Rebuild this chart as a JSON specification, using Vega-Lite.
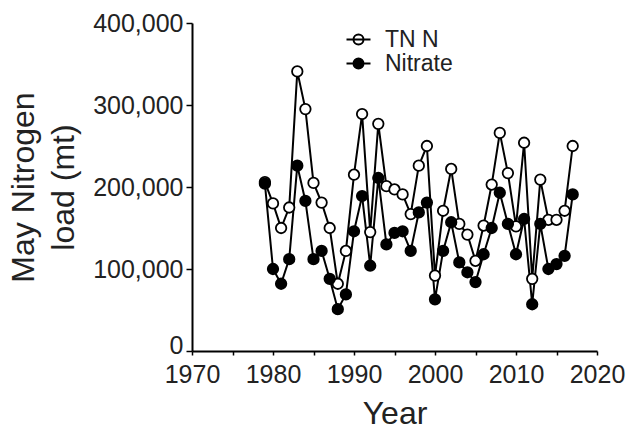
{
  "$schema": "https://vega.github.io/schema/vega-lite/v6.json",
  "width": 405,
  "height": 328,
  "autosize": {"type": "none"},
  "padding": {"left": 192, "top": 23, "right": 32, "bottom": 78},
  "background": "white",
  "config": {"view": {"stroke": null}, "font": "Liberation Sans"},
  "data": {
    "values": [
      {"year": 1979, "series": "TN N", "load": 206000},
      {"year": 1980, "series": "TN N", "load": 180000},
      {"year": 1981, "series": "TN N", "load": 150000},
      {"year": 1982, "series": "TN N", "load": 175000},
      {"year": 1983, "series": "TN N", "load": 341000},
      {"year": 1984, "series": "TN N", "load": 295000},
      {"year": 1985, "series": "TN N", "load": 205000},
      {"year": 1986, "series": "TN N", "load": 181000},
      {"year": 1987, "series": "TN N", "load": 150000},
      {"year": 1988, "series": "TN N", "load": 82000},
      {"year": 1989, "series": "TN N", "load": 122000},
      {"year": 1990, "series": "TN N", "load": 215000},
      {"year": 1991, "series": "TN N", "load": 289000},
      {"year": 1992, "series": "TN N", "load": 145000},
      {"year": 1993, "series": "TN N", "load": 277000},
      {"year": 1994, "series": "TN N", "load": 201000},
      {"year": 1995, "series": "TN N", "load": 197000},
      {"year": 1996, "series": "TN N", "load": 191000},
      {"year": 1997, "series": "TN N", "load": 167000},
      {"year": 1998, "series": "TN N", "load": 226000},
      {"year": 1999, "series": "TN N", "load": 250000},
      {"year": 2000, "series": "TN N", "load": 92000},
      {"year": 2001, "series": "TN N", "load": 171000},
      {"year": 2002, "series": "TN N", "load": 222000},
      {"year": 2003, "series": "TN N", "load": 155000},
      {"year": 2004, "series": "TN N", "load": 142000},
      {"year": 2005, "series": "TN N", "load": 110000},
      {"year": 2006, "series": "TN N", "load": 153000},
      {"year": 2007, "series": "TN N", "load": 203000},
      {"year": 2008, "series": "TN N", "load": 266000},
      {"year": 2009, "series": "TN N", "load": 217000},
      {"year": 2010, "series": "TN N", "load": 152000},
      {"year": 2011, "series": "TN N", "load": 254000},
      {"year": 2012, "series": "TN N", "load": 88000},
      {"year": 2013, "series": "TN N", "load": 209000},
      {"year": 2014, "series": "TN N", "load": 160000},
      {"year": 2015, "series": "TN N", "load": 160000},
      {"year": 2016, "series": "TN N", "load": 171000},
      {"year": 2017, "series": "TN N", "load": 250000},
      {"year": 1979, "series": "Nitrate", "load": 204000},
      {"year": 1980, "series": "Nitrate", "load": 100000},
      {"year": 1981, "series": "Nitrate", "load": 82000},
      {"year": 1982, "series": "Nitrate", "load": 112000},
      {"year": 1983, "series": "Nitrate", "load": 226000},
      {"year": 1984, "series": "Nitrate", "load": 183000},
      {"year": 1985, "series": "Nitrate", "load": 112000},
      {"year": 1986, "series": "Nitrate", "load": 122000},
      {"year": 1987, "series": "Nitrate", "load": 88000},
      {"year": 1988, "series": "Nitrate", "load": 51000},
      {"year": 1989, "series": "Nitrate", "load": 69000},
      {"year": 1990, "series": "Nitrate", "load": 146000},
      {"year": 1991, "series": "Nitrate", "load": 189000},
      {"year": 1992, "series": "Nitrate", "load": 104000},
      {"year": 1993, "series": "Nitrate", "load": 211000},
      {"year": 1994, "series": "Nitrate", "load": 130000},
      {"year": 1995, "series": "Nitrate", "load": 144000},
      {"year": 1996, "series": "Nitrate", "load": 146000},
      {"year": 1997, "series": "Nitrate", "load": 122000},
      {"year": 1998, "series": "Nitrate", "load": 169000},
      {"year": 1999, "series": "Nitrate", "load": 181000},
      {"year": 2000, "series": "Nitrate", "load": 63000},
      {"year": 2001, "series": "Nitrate", "load": 122000},
      {"year": 2002, "series": "Nitrate", "load": 157000},
      {"year": 2003, "series": "Nitrate", "load": 108000},
      {"year": 2004, "series": "Nitrate", "load": 96000},
      {"year": 2005, "series": "Nitrate", "load": 84000},
      {"year": 2006, "series": "Nitrate", "load": 118000},
      {"year": 2007, "series": "Nitrate", "load": 150000},
      {"year": 2008, "series": "Nitrate", "load": 193000},
      {"year": 2009, "series": "Nitrate", "load": 155000},
      {"year": 2010, "series": "Nitrate", "load": 118000},
      {"year": 2011, "series": "Nitrate", "load": 161000},
      {"year": 2012, "series": "Nitrate", "load": 57000},
      {"year": 2013, "series": "Nitrate", "load": 155000},
      {"year": 2014, "series": "Nitrate", "load": 100000},
      {"year": 2015, "series": "Nitrate", "load": 106000},
      {"year": 2016, "series": "Nitrate", "load": 116000},
      {"year": 2017, "series": "Nitrate", "load": 191000}
    ]
  },
  "encoding": {
    "x": {
      "field": "year",
      "type": "quantitative",
      "scale": {"domain": [1970, 2020], "nice": false, "zero": false},
      "axis": {
        "title": "Year",
        "values": [1970, 1975, 1980, 1985, 1990, 1995, 2000, 2005, 2010, 2015, 2020],
        "format": "d",
        "labelExpr": "datum.value % 10 == 0 ? datum.label : ''",
        "grid": false,
        "domainColor": "black",
        "domainWidth": 2,
        "tickColor": "black",
        "tickWidth": 1.5,
        "tickSize": 4,
        "labelFontSize": 25,
        "labelColor": "#222",
        "labelPadding": 7,
        "labelFlush": false,
        "titleFontSize": 32,
        "titleFontWeight": "normal",
        "titleColor": "#222",
        "titlePadding": 11
      }
    },
    "y": {
      "field": "load",
      "type": "quantitative",
      "scale": {"domain": [0, 400000], "nice": false},
      "axis": {
        "title": ["May Nitrogen", "load (mt)"],
        "values": [0, 100000, 200000, 300000, 400000],
        "format": ",d",
        "grid": false,
        "domainColor": "black",
        "domainWidth": 2,
        "tickColor": "black",
        "tickWidth": 1.5,
        "tickSize": 6,
        "labelFontSize": 25,
        "labelColor": "#222",
        "labelPadding": 3,
        "labelOffset": {"condition": {"test": "datum.value == 0", "value": -6}, "value": 0},
        "labelFlush": false,
        "titleFontSize": 32,
        "titleFontWeight": "normal",
        "titleColor": "#222",
        "titleLineHeight": 40,
        "titlePadding": 12
      }
    }
  },
  "layer": [
    {
      "mark": {"type": "line", "color": "black", "strokeWidth": 2},
      "encoding": {"detail": {"field": "series"}}
    },
    {
      "mark": {"type": "point", "shape": "circle", "size": 110, "filled": true, "stroke": "black", "strokeWidth": 1.8, "opacity": 1},
      "encoding": {
        "fill": {
          "field": "series",
          "type": "nominal",
          "scale": {"domain": ["TN N", "Nitrate"], "range": ["white", "black"]},
          "legend": {
            "title": null,
            "orient": "none",
            "legendX": 155,
            "legendY": 5,
            "symbolType": "M-2.4,0L2.4,0M-1,0A1,1,0,1,1,1,0A1,1,0,1,1,-1,0Z",
            "symbolSize": 100,
            "symbolStrokeColor": "black",
            "symbolStrokeWidth": 2,
            "symbolOpacity": 1,
            "labelFontSize": 23,
            "labelColor": "#222",
            "labelOffset": 15,
            "rowPadding": 0
          }
        }
      }
    }
  ]
}
